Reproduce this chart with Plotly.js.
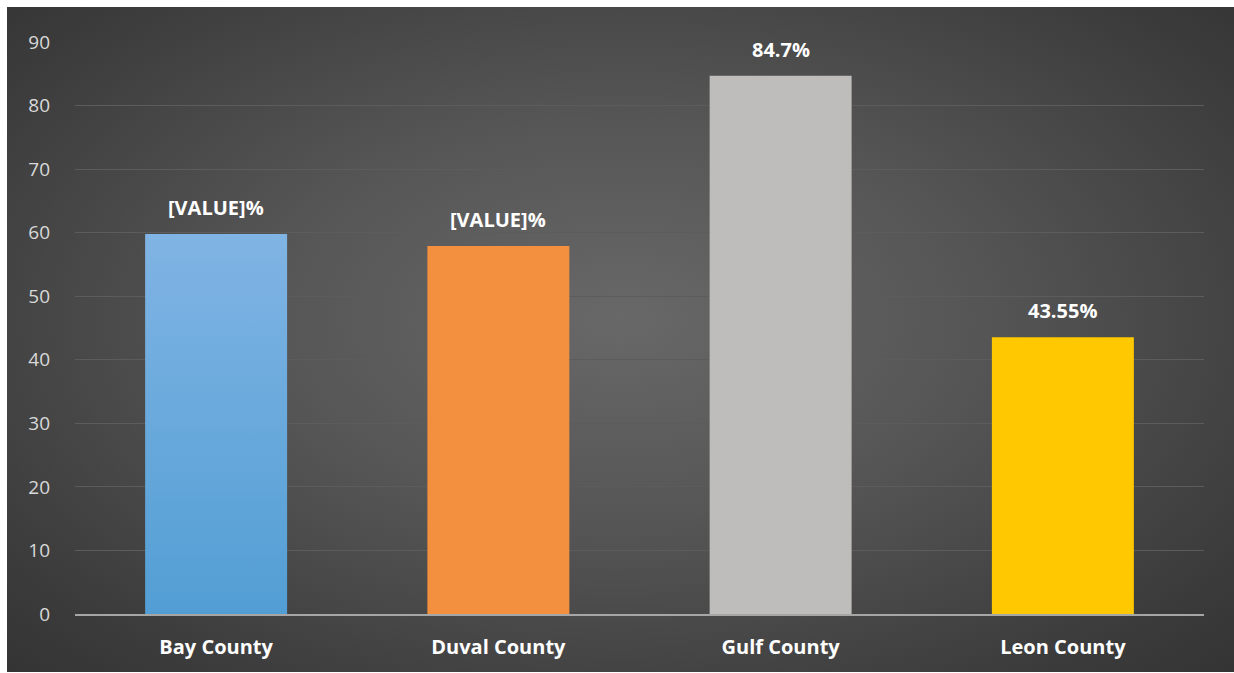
<!DOCTYPE html>
<html>
<head>
<meta charset="utf-8">
<script src="https://cdn.plot.ly/plotly-3.0.1.min.js"></script>
<style>
  html, body { margin: 0; padding: 0; background: #ffffff; }
  #bg { position: absolute; left: 7px; top: 7px; width: 1227px; height: 665px;
        background: radial-gradient(ellipse at 50% 47%, #686868 0%, #565656 40%, #3b3b3b 85%, #343434 100%); }
  #chart { position: absolute; left: 0; top: 0; width: 1234px; height: 673px; }
</style>
</head>
<body>
<div id="bg"></div>
<div id="chart"></div>
<script>
const categories = ["Bay County", "Duval County", "Gulf County", "Leon County"];
const values = [59.8, 57.9, 84.7, 43.55];
const labels = ["[VALUE]%", "[VALUE]%", "84.7%", "43.55%"];
const colors = ["#68a9dc", "#f2903f", "#bebdbb", "#ffc800"];
const yTicks = [0, 10, 20, 30, 40, 50, 60, 70, 80, 90];

const trace = {
  type: "bar",
  x: categories,
  y: values,
  marker: { color: colors, line: { width: 0 } },
  hoverinfo: "skip"
};

const annotations = categories.map((c, i) => ({
  x: c, y: values[i], xref: "x", yref: "y",
  text: labels[i], showarrow: false,
  yanchor: "bottom", yshift: 11,
  font: { family: "Open Sans, sans-serif", size: 20, color: "#ffffff", weight: 700 }
}));

const layout = {
  width: 1234, height: 673,
  paper_bgcolor: "rgba(0,0,0,0)",
  plot_bgcolor: "rgba(0,0,0,0)",
  margin: { l: 75, r: 30, t: 42, b: 59 },
  bargap: 0.497,
  showlegend: false,
  xaxis: {
    type: "category",
    showgrid: false,
    showline: true, linecolor: "#a6a6a6", linewidth: 2,
    ticks: "", ticklen: 0,
    ticklabelstandoff: 14,
    tickfont: { family: "Open Sans, sans-serif", size: 20, color: "#ffffff", weight: 700 },
    fixedrange: true
  },
  yaxis: {
    range: [0, 90],
    tickvals: yTicks,
    ticktext: yTicks.map(String),
    showgrid: true, gridcolor: "#5c5c5c", gridwidth: 1,
    zeroline: false,
    showline: false,
    ticks: "",
    ticklabelstandoff: 24,
    tickfont: { family: "Open Sans, sans-serif", size: 19, color: "#d9d9d9" },
    fixedrange: true
  },
  annotations: annotations
};

Plotly.newPlot("chart", [trace], layout, { displayModeBar: false, staticPlot: true }).then(gd => {
  // light-to-dark vertical gradient on the first (blue) bar, as in the reference
  const svg = gd.querySelector("svg.main-svg");
  const ns = "http://www.w3.org/2000/svg";
  let defs = svg.querySelector("defs");
  if (!defs) { defs = document.createElementNS(ns, "defs"); svg.insertBefore(defs, svg.firstChild); }
  const lg = document.createElementNS(ns, "linearGradient");
  lg.setAttribute("id", "bayGrad");
  lg.setAttribute("x1", "0"); lg.setAttribute("y1", "0");
  lg.setAttribute("x2", "0"); lg.setAttribute("y2", "1");
  [["0%", "#80b4e4"], ["100%", "#529ed4"]].forEach(([o, c]) => {
    const s = document.createElementNS(ns, "stop");
    s.setAttribute("offset", o); s.setAttribute("stop-color", c);
    lg.appendChild(s);
  });
  defs.appendChild(lg);
  const firstBar = gd.querySelector(".bars .point path");
  if (firstBar) firstBar.style.fill = "url(#bayGrad)";
});
</script>
</body>
</html>
